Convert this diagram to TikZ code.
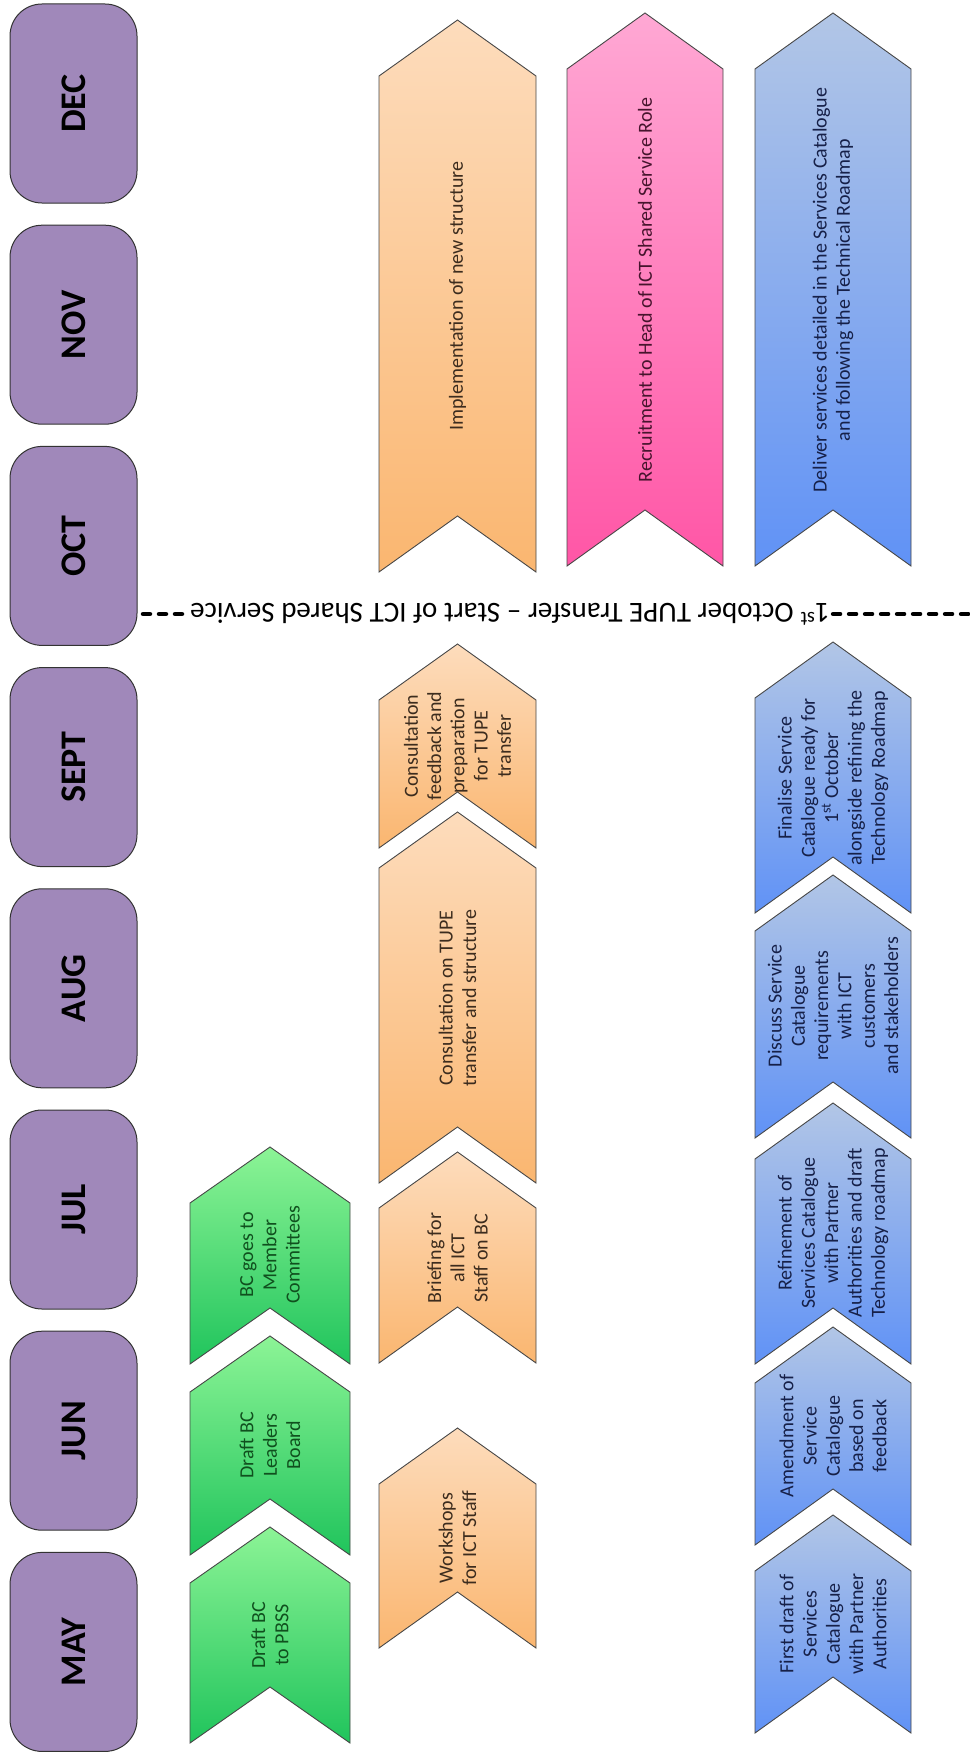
\documentclass[tikz,border=0pt]{standalone}
\usepackage{fontspec}
\setmainfont{Carlito}
\definecolor{monthpurple}{RGB}{160,136,186}
\definecolor{greentop}{RGB}{140,244,150}
\definecolor{greenbot}{RGB}{32,196,92}
\definecolor{orangetop}{RGB}{253,220,188}
\definecolor{orangebot}{RGB}{250,182,112}
\definecolor{pinktop}{RGB}{255,168,212}
\definecolor{pinkbot}{RGB}{255,86,166}
\definecolor{bluetop}{RGB}{178,198,230}
\definecolor{bluebot}{RGB}{96,146,246}
\definecolor{greentext}{RGB}{16,80,30}
\definecolor{orangetext}{RGB}{60,44,30}
\definecolor{pinktext}{RGB}{70,20,45}
\definecolor{bluetext}{RGB}{22,32,72}
\usetikzlibrary{positioning}

\begin{document}
\begin{tikzpicture}[x=1pt,y=-1pt,
  month/.style={draw=black!80,fill=monthpurple,line width=1pt,rounded corners=32pt,
    rotate=90,minimum width=199pt,minimum height=127pt,
    font=\bfseries\fontsize{36}{40}\selectfont},
  chev/.style={draw=black!72,line width=0.9pt},
  greenchev/.style={chev,top color=greentop,bottom color=greenbot},
  orangechev/.style={chev,top color=orangetop,bottom color=orangebot},
  pinkchev/.style={chev,top color=pinktop,bottom color=pinkbot},
  bluechev/.style={chev,top color=bluetop,bottom color=bluebot},
  chevtext/.style={rotate=90,align=center,inner sep=0pt,font=\fontsize{20}{23.3}\selectfont},
  milestone/.style={line width=4.5pt,dash pattern=on 7pt off 9pt,line cap=round}]
\useasboundingbox (0,0) rectangle (969,1753);

% months
\node[month] (dec) at (73.5,103.5) {DEC};
\node[month] (nov) at (73.5,324.7) {NOV};
\node[month] (oct) at (73.5,545.9) {OCT};
\node[month] (sept) at (73.5,767.1) {SEPT};
\node[month] (aug) at (73.5,988.3) {AUG};
\node[month] (jul) at (73.5,1209.5) {JUL};
\node[month] (jun) at (73.5,1430.7) {JUN};
\node[month] (may) at (73.5,1651.9) {MAY};

% business case
\draw[greenchev] (190,1203) -- (270,1147) -- (350,1203) -- (350,1364) -- (270,1308) -- (190,1364) -- cycle;
\node[chevtext,greentext] (bcgoes) at (270,1255) {BC goes to\\Member\\Committees};
\draw[greenchev] (190,1392) -- (270,1336) -- (350,1392) -- (350,1555) -- (270,1499) -- (190,1555) -- cycle;
\node[chevtext,greentext] (bcleaders) at (270,1445) {Draft BC\\Leaders\\Board};
\draw[greenchev] (190,1583) -- (270,1527) -- (350,1583) -- (350,1743) -- (270,1687) -- (190,1743) -- cycle;
\node[chevtext,greentext] (bcpbss) at (270,1635) {Draft BC\\to PBSS};

% staff and structure
\draw[orangechev] (379,76) -- (457.5,20) -- (536,76) -- (536,572) -- (457.5,516) -- (379,572) -- cycle;
\node[chevtext,orangetext] (implement) at (457.5,296) {Implementation of new structure};
\draw[orangechev] (379,700) -- (457.5,644) -- (536,700) -- (536,848) -- (457.5,792) -- (379,848) -- cycle;
\node[chevtext,orangetext] (feedback) at (457.5,746) {Consultation\\feedback and\\preparation\\for TUPE\\transfer};
\draw[orangechev] (379,868) -- (457.5,812) -- (536,868) -- (536,1183) -- (457.5,1127) -- (379,1183) -- cycle;
\node[chevtext,orangetext] (consult) at (457.5,998) {Consultation on TUPE\\transfer and structure};
\draw[orangechev] (379,1208) -- (457.5,1152) -- (536,1208) -- (536,1363) -- (457.5,1307) -- (379,1363) -- cycle;
\node[chevtext,orangetext] (briefing) at (457.5,1258) {Briefing for\\all ICT\\Staff on BC};
\draw[orangechev] (379,1484) -- (457.5,1428) -- (536,1484) -- (536,1648) -- (457.5,1592) -- (379,1648) -- cycle;
\node[chevtext,orangetext] (workshops) at (457.5,1538) {Workshops\\for ICT Staff};

% head of service
\draw[pinkchev] (567,69) -- (645,13) -- (723,69) -- (723,566) -- (645,510) -- (567,566) -- cycle;
\node[chevtext,pinktext] (recruit) at (645,290) {Recruitment to Head of ICT Shared Service Role};

% services catalogue
\draw[bluechev] (755,69) -- (833,13) -- (911,69) -- (911,566) -- (833,510) -- (755,566) -- cycle;
\node[chevtext,bluetext] (deliver) at (833,290) {Deliver services detailed in the Services Catalogue\\and following the Technical Roadmap};
\draw[bluechev] (755,698) -- (833,642) -- (911,698) -- (911,913) -- (833,857) -- (755,913) -- cycle;
\node[chevtext,bluetext] (finalise) at (833,778) {Finalise Service\\Catalogue ready for\\1\textsuperscript{st} October\\alongside refining the\\Technology Roadmap};
\draw[bluechev] (755,931) -- (833,875) -- (911,931) -- (911,1138) -- (833,1082) -- (755,1138) -- cycle;
\node[chevtext,bluetext] (discuss) at (833,1006) {Discuss Service\\Catalogue\\requirements\\with ICT\\customers\\and stakeholders};
\draw[bluechev] (755,1159) -- (833,1103) -- (911,1159) -- (911,1364) -- (833,1308) -- (755,1364) -- cycle;
\node[chevtext,bluetext] (refine) at (833,1233) {Refinement of\\Services Catalogue\\with Partner\\Authorities and draft\\Technology roadmap};
\draw[bluechev] (755,1383) -- (833,1327) -- (911,1383) -- (911,1545) -- (833,1489) -- (755,1545) -- cycle;
\node[chevtext,bluetext] (amend) at (833,1436) {Amendment of\\Service\\Catalogue\\based on\\feedback};
\draw[bluechev] (755,1571) -- (833,1515) -- (911,1571) -- (911,1733) -- (833,1677) -- (755,1733) -- cycle;
\node[chevtext,bluetext] (firstdraft) at (833,1624) {First draft of\\Services\\Catalogue\\with Partner\\Authorities};

% 1st october milestone
\coordinate (msleft) at (143,614);
\coordinate (msright) at (969,614);
\node[rotate=180,inner sep=3pt,font=\fontsize{29}{32}\selectfont] (tupe) at (510,614)
  {1\textsuperscript{st} October TUPE Transfer -- Start of ICT Shared Service};
\draw[milestone] (msleft) -- (tupe.east);
\draw[milestone] (tupe.west) -- (msright);
\end{tikzpicture}
\end{document}
